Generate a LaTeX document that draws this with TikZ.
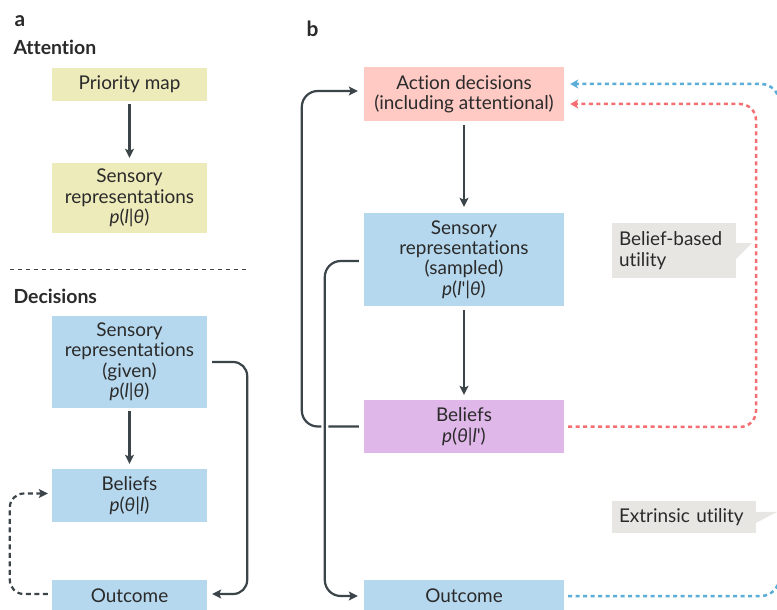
\documentclass[tikz,border=0pt]{standalone}
\usepackage{fontspec}
\setmainfont{Lato}[Ligatures={TeX,NoCommon}]
\usetikzlibrary{arrows.meta}
\definecolor{yel}{HTML}{EEEBBB}
\definecolor{blu}{HTML}{B6D8EE}
\definecolor{pnk}{HTML}{FFCAC4}
\definecolor{pur}{HTML}{DFB7E9}
\definecolor{gry}{HTML}{E8E6E2}
\definecolor{ink}{HTML}{3B4449}
\definecolor{rdl}{HTML}{F56E72}
\definecolor{bll}{HTML}{5AAED8}
\definecolor{txt}{HTML}{2A2A2A}
\newcommand{\mi}[1]{\textit{#1}}
\begin{document}
\begin{tikzpicture}[x=1bp,y=-1bp,
  box/.style={rectangle, inner sep=0pt, align=center, text=txt,
    font=\fontsize{19}{20.5}\selectfont},
  boxa/.style={box, minimum width=155bp},
  boxb/.style={box, minimum width=200bp},
  callout/.style={rectangle, inner sep=0pt, align=left, text=txt, fill=gry,
    font=\fontsize{19}{20.5}\selectfont},
  conn/.style={draw=ink, line width=2.2bp, -{Stealth[length=9bp,width=9bp,inset=2bp]}},
  dconn/.style={conn, dash pattern=on 5bp off 3.5bp},
  rconn/.style={draw=rdl, line width=2.5bp, dash pattern=on 4bp off 3.5bp,
    -{Stealth[length=8bp,width=9bp,inset=2bp]}},
  bconn/.style={draw=bll, line width=2.5bp, dash pattern=on 4bp off 3.5bp,
    -{Stealth[length=8bp,width=9bp,inset=2bp]}},
  lab/.style={anchor=base west, text=txt, font=\bfseries\fontsize{19.5}{20}\selectfont},
]
\useasboundingbox (0,0) rectangle (777,610);

% panel labels
\node[lab, font=\bfseries\fontsize{21}{20}\selectfont] (la) at (11,27) {a};
\node[lab] (att) at (10,55) {Attention};
\node[lab] (dec) at (10,303) {Decisions};
\node[lab, font=\bfseries\fontsize{21}{20}\selectfont] (lb) at (303,37) {b};

% separator
\coordinate (s1) at (10,269);
\coordinate (s2) at (248,269);
\draw[ink, line width=1bp, dash pattern=on 4bp off 4bp] (s1) -- (s2);

% panel a
\node[boxa, fill=yel, minimum height=33bp] (pm) at (129.5,84.5) {Priority map};
\node[boxa, fill=yel, minimum height=70bp] (sr1) at (129.5,198)
  {Sensory\\representations\\\mi{p}(\mi{l}|\mi{θ})};
\node[boxa, fill=blu, minimum height=92bp] (sr2) at (129.5,362)
  {Sensory\\representations\\(given)\\\mi{p}(\mi{l}|\mi{θ})};
\node[boxa, fill=blu, minimum height=53bp] (be1) at (129.5,495.5)
  {Beliefs\\\mi{p}(\mi{θ}|\mi{l})};
\node[boxa, fill=blu, minimum height=32bp] (ou1) at (129.5,596) {Outcome};

\draw[conn, shorten <=3bp, shorten >=5bp] (pm) -- (sr1);
\draw[conn, shorten <=3bp, shorten >=5bp] (sr2) -- (be1);
\draw[conn, rounded corners=14bp] ([xshift=5bp]sr2.east) -- ++(35,0)
  |- ([xshift=5bp,yshift=2bp]ou1.east);
\draw[dconn, rounded corners=14bp] ([xshift=-4bp,yshift=2bp]ou1.west) -- ++(-38,0)
  |- ([xshift=-4bp,yshift=2bp]be1.west);

% panel b
\node[boxb, fill=pnk, minimum height=54bp] (ad) at (464,94)
  {Action decisions\\(including attentional)};
\node[boxb, fill=blu, minimum height=93bp] (sr3) at (464,259.5)
  {Sensory\\representations\\(sampled)\\\mi{p}(\mi{l}\textquotesingle|\mi{θ})};
\node[boxb, fill=pur, minimum height=53bp] (be2) at (464,426.5)
  {Beliefs\\\mi{p}(\mi{θ}|\mi{l}\textquotesingle)};
\node[boxb, fill=blu, minimum height=32bp] (ou2) at (464,596) {Outcome};

\draw[conn, shorten <=4bp, shorten >=6bp] (ad) -- (sr3);
\draw[conn, shorten <=4bp, shorten >=5bp] (sr3) -- (be2);

\draw[conn, rounded corners=16bp] ([xshift=-5bp]be2.west) -- ++(-57,0)
  |- ([xshift=-6bp,yshift=3bp]ad.west);
\draw[conn, rounded corners=16bp,
  preaction={draw=white, line width=7bp, -, shorten <=0bp}]
  ([xshift=-5bp,yshift=-1.5bp]sr3.west) -- ++(-34,0)
  |- ([xshift=-6bp]ou2.west);

\draw[rconn, rounded corners=16bp] ([xshift=4bp]be2.east) -- (756,427)
  |- ([xshift=6bp,yshift=-10bp]ad.east);
\draw[bconn, rounded corners=18bp] ([xshift=4bp]ou2.east) -- (779,596)
  |- ([xshift=6bp,yshift=10bp]ad.east);

% callouts
\node[callout, minimum width=124bp, minimum height=55bp, text width=110bp] (bbu) at (674,250.5)
  {Belief-based\\utility};
\fill[gry] ([yshift=-20bp]bbu.north east) -- ++(16,0) -- ++(-16,16) -- cycle;
\node[callout, minimum width=144bp, minimum height=32bp, text width=130bp] (eu) at (684,517)
  {Extrinsic utility};
\fill[gry] ([yshift=-11bp]eu.north east) -- ++(21,0) -- ++(-21,11) -- cycle;
\end{tikzpicture}
\end{document}
